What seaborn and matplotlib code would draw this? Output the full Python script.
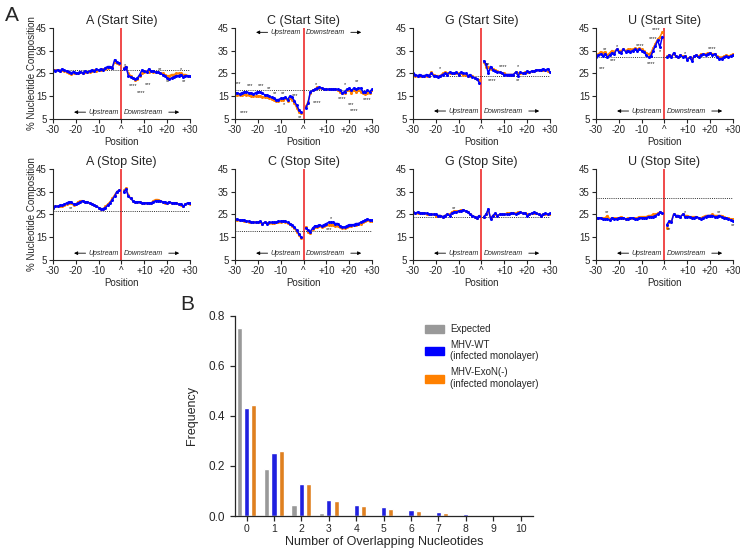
import matplotlib
matplotlib.use("Agg")
import matplotlib.pyplot as plt
import pandas as pd
import seaborn as sns
from matplotlib.patches import Patch

sns.set_style("ticks")
plt.rcParams['font.family'] = ['Liberation Sans', 'DejaVu Sans']

# positions -30..-1 then +1..+30 (no value at the site itself)
upstream = list(range(-30, 0))
downstream = list(range(1, 31))
positions = upstream + downstream

# % nucleotide composition, start sites
a_start_wt = [26.5, 26.2, 26.5, 26.0, 27.0, 26.3, 26.0, 25.5, 25.2, 25.8,
              25.0, 25.3, 25.8, 25.2, 26.0, 25.5, 26.0, 26.5, 26.0, 26.8,
              26.5, 27.0, 26.5, 27.5, 28.0, 28.0, 27.5, 31.0, 30.0, 29.5,
              27.0, 28.0, 24.0, 23.5, 23.0, 22.5, 23.0, 24.5, 26.5, 26.0,
              25.5, 27.0, 26.0, 26.0, 25.5, 25.5, 25.0, 24.5, 24.0, 23.0,
              22.5, 23.0, 23.5, 24.0, 24.0, 24.5, 23.5, 24.0, 24.0, 23.8]
a_start_exo = [26.3, 26.4, 26.5, 26.2, 26.5, 26.0, 25.8, 25.0, 24.8, 25.2,
               25.0, 25.0, 25.5, 25.3, 25.6, 25.8, 25.5, 26.0, 26.3, 26.2,
               26.5, 26.3, 26.8, 27.0, 27.5, 27.8, 27.5, 30.0, 29.5, 29.0,
               27.5, 28.0, 25.0, 24.0, 23.0, 22.0, 22.5, 24.0, 25.0, 25.5,
               26.0, 25.5, 26.0, 25.5, 25.8, 25.5, 25.0, 25.0, 24.5, 24.0,
               24.0, 24.5, 24.5, 25.0, 25.0, 25.0, 24.5, 24.5, 24.0, 24.0]
c_start_wt = [16.5, 16.5, 16.0, 16.5, 16.8, 17.0, 16.5, 16.5, 16.0, 16.5,
              17.0, 16.8, 16.5, 15.5, 15.5, 15.0, 14.5, 14.0, 13.5, 13.5,
              14.0, 14.0, 14.5, 13.5, 15.0, 14.5, 13.0, 11.0, 9.0, 8.0,
              10.0, 12.0, 17.0, 17.5, 18.0, 18.5, 19.0, 18.5, 18.0, 18.0,
              18.0, 18.0, 18.0, 18.0, 18.0, 17.5, 16.5, 17.0, 18.0, 18.5,
              17.5, 18.5, 18.0, 18.5, 18.5, 17.0, 17.0, 17.5, 17.0, 18.0]
c_start_exo = [15.5, 15.5, 15.5, 15.5, 15.8, 15.5, 15.5, 15.0, 15.0, 15.0,
               15.0, 15.0, 14.8, 14.5, 14.5, 14.0, 13.8, 13.5, 13.0, 13.0,
               13.5, 13.5, 14.0, 13.0, 14.0, 13.5, 12.0, 10.0, 8.0, 7.5,
               10.5, 12.5, 16.5, 17.5, 18.0, 19.0, 18.5, 18.5, 18.0, 18.0,
               18.0, 18.0, 18.0, 18.0, 17.5, 17.0, 16.5, 16.5, 17.5, 17.5,
               16.5, 17.5, 17.0, 17.5, 17.0, 16.5, 16.0, 16.5, 16.5, 17.5]
g_start_wt = [25.0, 24.5, 24.0, 24.5, 24.0, 24.0, 24.5, 24.0, 25.0, 24.0,
              24.0, 23.5, 24.0, 24.5, 25.0, 24.5, 25.5, 25.0, 25.0, 25.5,
              24.5, 25.5, 25.0, 25.0, 24.0, 24.5, 23.5, 23.0, 22.5, 21.0,
              30.5, 29.0, 25.0, 28.0, 26.5, 26.0, 25.5, 25.5, 25.0, 24.5,
              24.5, 24.5, 24.5, 24.5, 25.5, 24.0, 25.5, 25.0, 25.0, 26.0,
              25.5, 26.0, 26.0, 26.5, 26.5, 26.5, 27.0, 26.5, 27.0, 25.5]
g_start_exo = [24.5, 24.0, 24.0, 24.0, 24.0, 24.0, 24.0, 24.0, 25.5, 24.5,
               24.0, 24.0, 24.0, 25.0, 25.5, 25.0, 25.0, 25.0, 25.0, 25.0,
               25.0, 25.0, 24.5, 24.5, 24.0, 24.0, 24.0, 23.0, 22.5, 22.0,
               30.0, 28.0, 28.0, 27.0, 27.0, 26.5, 26.0, 25.5, 25.0, 25.0,
               24.5, 24.5, 24.5, 24.5, 25.5, 25.0, 25.0, 25.0, 25.5, 25.5,
               25.5, 26.0, 26.0, 26.5, 26.5, 26.5, 26.5, 26.5, 26.0, 25.5]
u_start_wt = [32.0, 33.0, 33.5, 32.5, 33.5, 32.0, 33.0, 34.0, 33.5, 35.5,
              34.5, 34.0, 35.5, 34.5, 35.0, 34.5, 35.0, 35.5, 35.0, 35.5,
              35.0, 34.5, 33.0, 32.0, 32.5, 35.0, 37.0, 39.5, 36.5, 41.0,
              32.0, 33.0, 32.0, 34.0, 32.5, 32.0, 33.0, 32.0, 32.5, 31.0,
              32.0, 30.5, 32.5, 33.0, 32.0, 33.0, 33.5, 33.0, 33.5, 34.0,
              33.0, 33.5, 32.0, 31.5, 31.5, 32.0, 32.5, 32.0, 32.5, 33.0]
u_start_exo = [32.5, 33.5, 34.5, 34.0, 34.5, 33.0, 34.0, 35.0, 34.5, 35.5,
               35.0, 35.0, 35.5, 35.0, 35.5, 35.5, 35.5, 36.0, 35.5, 36.0,
               35.5, 35.0, 34.0, 33.5, 34.0, 36.0, 38.0, 40.0, 41.0, 43.0,
               32.5, 33.0, 32.5, 33.5, 32.5, 32.0, 33.0, 32.5, 32.5, 31.5,
               32.0, 31.5, 32.5, 33.0, 32.5, 33.5, 33.5, 33.5, 34.0, 34.0,
               33.5, 33.5, 32.5, 32.0, 32.0, 32.5, 33.0, 32.5, 33.0, 33.5]

# % nucleotide composition, stop sites
a_stop_wt = [28.0, 28.5, 28.5, 29.0, 29.0, 29.5, 30.0, 30.5, 30.5, 29.5,
             29.5, 30.0, 30.5, 31.0, 30.5, 30.5, 30.0, 29.5, 29.0, 28.5,
             28.0, 27.5, 27.5, 28.0, 29.0, 30.0, 31.5, 33.0, 35.0, 35.5,
             35.0, 36.0, 33.0, 32.0, 31.0, 30.5, 30.5, 30.5, 30.0, 30.0,
             30.0, 30.0, 30.0, 30.5, 31.0, 31.0, 31.0, 30.5, 30.5, 30.0,
             30.5, 30.0, 30.0, 30.0, 29.5, 29.5, 28.5, 29.5, 30.0, 30.0]
a_stop_exo = [28.0, 28.5, 28.5, 28.5, 28.5, 29.0, 29.5, 30.0, 30.0, 29.0,
              29.5, 30.5, 31.0, 31.0, 30.5, 30.5, 30.0, 29.5, 29.0, 28.5,
              28.0, 27.5, 27.5, 28.5, 29.5, 30.5, 32.0, 33.5, 35.0, 35.5,
              35.5, 36.5, 33.5, 32.0, 31.0, 30.5, 30.5, 30.5, 30.0, 30.0,
              30.0, 30.0, 30.0, 31.0, 31.5, 31.5, 31.0, 30.5, 30.0, 30.0,
              30.5, 30.0, 30.0, 30.0, 29.5, 29.0, 28.5, 29.5, 30.0, 29.5]
c_stop_wt = [22.8, 22.8, 22.5, 22.5, 22.5, 22.0, 22.0, 21.5, 21.5, 21.5,
             21.5, 22.0, 21.0, 21.5, 21.0, 21.5, 21.5, 21.5, 21.5, 22.0,
             22.0, 22.0, 22.0, 21.5, 21.0, 20.5, 19.5, 18.0, 16.5, 15.0,
             19.0, 18.0, 17.5, 19.0, 20.0, 20.0, 20.5, 20.0, 20.5, 21.0,
             21.5, 21.5, 21.5, 21.0, 21.0, 20.0, 19.5, 19.5, 20.0, 20.5,
             20.5, 20.5, 21.0, 21.0, 21.5, 22.0, 22.5, 23.0, 22.5, 22.5]
c_stop_exo = [22.5, 22.5, 22.5, 22.5, 22.3, 22.0, 21.8, 21.5, 21.8, 21.5,
              21.8, 21.5, 20.8, 21.5, 21.2, 21.3, 21.2, 21.3, 21.5, 21.8,
              21.8, 22.0, 21.8, 21.3, 21.0, 20.0, 19.0, 17.5, 16.0, 14.5,
              19.5, 17.5, 17.0, 18.5, 19.5, 19.5, 20.0, 19.5, 20.0, 20.5,
              20.5, 20.5, 20.5, 20.0, 20.0, 19.5, 19.0, 19.0, 19.5, 20.0,
              20.0, 20.5, 20.5, 21.0, 21.0, 21.5, 22.0, 22.5, 22.0, 22.0]
g_stop_wt = [26.0, 25.5, 26.0, 25.8, 25.5, 25.5, 25.5, 25.0, 25.0, 25.0,
             25.0, 24.5, 24.5, 24.0, 24.5, 25.0, 24.5, 25.5, 26.0, 26.0,
             26.5, 26.5, 27.0, 26.5, 26.0, 25.0, 24.5, 24.0, 23.5, 24.5,
             24.0, 25.0, 27.5, 23.0, 24.5, 25.5, 24.5, 25.0, 25.0, 25.0,
             25.0, 25.0, 25.5, 25.5, 25.0, 25.5, 26.0, 25.5, 25.5, 24.5,
             25.0, 25.5, 26.0, 25.5, 25.0, 24.5, 25.0, 25.5, 25.0, 25.5]
g_stop_exo = [26.0, 25.5, 25.5, 25.5, 25.5, 25.5, 25.0, 25.0, 25.0, 25.0,
              24.5, 24.5, 24.5, 24.0, 24.5, 25.0, 25.0, 26.0, 26.5, 26.5,
              26.5, 27.0, 27.0, 26.5, 26.0, 25.0, 24.5, 24.0, 23.5, 24.5,
              24.0, 25.0, 26.5, 23.5, 24.5, 25.0, 24.5, 25.0, 25.0, 25.0,
              25.5, 25.5, 25.5, 25.5, 25.5, 26.0, 26.0, 25.5, 25.5, 25.0,
              25.0, 25.5, 25.5, 25.5, 25.0, 24.5, 25.0, 25.0, 25.0, 25.0]
u_stop_wt = [23.5, 23.5, 23.5, 23.0, 23.0, 23.0, 22.5, 23.5, 23.0, 23.0,
             23.5, 23.5, 23.5, 23.0, 23.0, 23.5, 23.5, 23.0, 23.0, 23.5,
             23.5, 23.5, 23.5, 24.0, 24.0, 24.0, 24.5, 25.0, 26.0, 25.5,
             20.5, 22.0, 21.5, 25.0, 24.5, 24.5, 24.0, 25.0, 24.0, 24.0,
             24.0, 23.5, 23.5, 24.0, 23.5, 23.0, 23.5, 24.0, 24.5, 24.5,
             24.5, 24.0, 24.0, 24.5, 24.0, 23.5, 23.5, 23.0, 22.5, 22.0]
u_stop_exo = [23.5, 23.5, 23.5, 23.5, 23.5, 24.5, 23.0, 23.5, 23.5, 23.5,
              23.5, 24.0, 23.5, 23.0, 23.5, 23.5, 23.5, 23.5, 23.5, 24.0,
              24.0, 24.0, 24.0, 24.5, 24.5, 25.0, 25.0, 25.5, 26.0, 25.5,
              19.0, 21.5, 22.0, 25.0, 24.5, 24.5, 24.0, 25.0, 24.5, 24.5,
              24.0, 24.0, 24.0, 24.0, 23.5, 23.5, 24.0, 24.5, 24.5, 24.5,
              25.0, 24.5, 24.5, 24.5, 24.5, 24.0, 23.5, 23.5, 23.0, 23.0]

# expected composition (dotted lines)
expected_pct = {'A': 26.5, 'C': 17.8, 'G': 23.7, 'U': 32.0}

# significance marks: (position, y, text)
stars = {
    'A start': [(1.5, 28.5, '*'), (5, 19.5, '****'), (8.5, 16.5, '****'), (11.5, 20, '***'),
                (17, 26.8, '**'), (20.5, 21.3, '**'), (26, 26.8, '*'), (27.5, 21.3, '**')],
    'C start': [(-28.5, 20.5, '***'), (-23.5, 19.8, '***'), (-18.5, 19.8, '***'), (-15, 18.2, '**'),
                (-26, 8, '****'), (-12.5, 16, '**'), (-9, 16, '**'), (-3.5, 15.5, '***'),
                (-8.5, 11.3, '*'), (-1.5, 5.8, '**'), (6, 12, '****'), (5.5, 20.2, '*'),
                (18, 20.3, '*'), (23.5, 21.3, '**'), (17, 14, '****'), (21, 11.5, '***'),
                (22, 8.5, '****'), (28, 13.5, '****')],
    'G start': [(-18, 27, '*'), (3, 29, '**'), (9.5, 28, '****'), (4.5, 21.8, '****'),
                (16, 28, '*'), (16, 21.8, '**')],
    'U start': [(-27.5, 27, '***'), (-26, 35.3, '**'), (-21, 36.8, '*'), (-22.5, 30.5, '***'),
                (-10.5, 37, '****'), (-6, 29.5, '****'), (-5, 40.2, '****'), (-3.5, 44, '****'),
                (-2, 34.5, '*'), (9, 33.5, '*'), (21, 35.8, '****')],
    'A stop': [(-22, 27.5, '**')],
    'C stop': [(12, 23, '*'), (11, 18.5, '***')],
    'G stop': [(-12, 27.5, '**')],
    'U stop': [(-25, 26, '**'), (2, 18.2, '**'), (9, 25.8, '*'), (24, 25.8, '**'), (30, 20, '**')],
}

# Panel B: frequency of overlapping nucleotides
overlap = list(range(0, 11))
freq_expected = [0.75, 0.187, 0.046, 0.011, 0.002, 0.0, 0.0, 0.0, 0.0, 0.0, 0.0]
freq_wt = [0.430, 0.250, 0.127, 0.066, 0.046, 0.036, 0.024, 0.016, 0.008, 0.002, 0.0]
freq_exo = [0.445, 0.258, 0.127, 0.062, 0.040, 0.030, 0.022, 0.013, 0.006, 0.001, 0.0]

BLUE = '#0000ff'
ORANGE = '#ff8000'
GRAY = '#999999'
RED = '#ee2b2b'

panels = [
    ('A', 'Start', a_start_wt, a_start_exo, 8),
    ('C', 'Start', c_start_wt, c_start_exo, 43),
    ('G', 'Start', g_start_wt, g_start_exo, 8.5),
    ('U', 'Start', u_start_wt, u_start_exo, 8.5),
    ('A', 'Stop', a_stop_wt, a_stop_exo, 8),
    ('C', 'Stop', c_stop_wt, c_stop_exo, 8),
    ('G', 'Stop', g_stop_wt, g_stop_exo, 8),
    ('U', 'Stop', u_stop_wt, u_stop_exo, 8),
]

fig = plt.figure(figsize=(7.4, 5.53), dpi=100)
lefts = [0.0716, 0.3176, 0.5581, 0.8054]
bottoms = [0.7848, 0.5298]

for i, (nt, site, wt, exo, arrow_y) in enumerate(panels):
    row, col = divmod(i, 4)
    ax = fig.add_axes([lefts[col], bottoms[row], 0.1851, 0.165])

    side = ['up'] * len(upstream) + ['down'] * len(downstream)
    df = pd.DataFrame({
        'pos': positions * 2,
        'value': exo + wt,
        'strain': ['ExoN'] * len(positions) + ['WT'] * len(positions),
        'side': side * 2,
    })
    sns.lineplot(data=df, x='pos', y='value', hue='strain', units='side', estimator=None,
                 palette={'ExoN': ORANGE, 'WT': BLUE}, hue_order=['ExoN', 'WT'],
                 marker='o', markersize=2.2, markeredgewidth=0, linewidth=1.1,
                 legend=False, ax=ax)

    ax.axhline(expected_pct[nt], color='#333333', ls=(0, (1, 1.2)), lw=0.7, zorder=1)
    ax.axvline(0, color=RED, lw=1.2, zorder=0)

    ax.set_xlim(-30, 30)
    ax.set_ylim(5, 45)
    ax.set_xticks([-30, -20, -10, 0, 10, 20, 30])
    ax.set_xticklabels(['-30', '-20', '-10', '^', '+10', '+20', '+30'])
    ax.set_yticks([5, 15, 25, 35, 45])
    ax.tick_params(labelsize=7, length=3, width=0.8, pad=1.5)
    for s in ['left', 'bottom']:
        ax.spines[s].set_linewidth(0.8)
    sns.despine(ax=ax)

    ax.set_title(f'{nt} ({site} Site)', fontsize=9, pad=3)
    ax.set_xlabel('Position', fontsize=7, labelpad=1)
    if col == 0:
        ax.set_ylabel('% Nucleotide Composition', fontsize=7, labelpad=-1)
    else:
        ax.set_ylabel('')

    # upstream / downstream arrows
    ax.text(-1, arrow_y, 'Upstream', ha='right', va='center', fontsize=5, style='italic')
    ax.text(1, arrow_y, 'Downstream', ha='left', va='center', fontsize=5, style='italic')
    ax.annotate('', xy=(-22, arrow_y), xytext=(-14.5, arrow_y),
                arrowprops=dict(arrowstyle='-|>', lw=0.6, color='black', mutation_scale=5))
    ax.annotate('', xy=(26.5, arrow_y), xytext=(19.5, arrow_y),
                arrowprops=dict(arrowstyle='-|>', lw=0.6, color='black', mutation_scale=5))

    for x, y, t in stars[f'{nt} {site.lower()}']:
        ax.text(x, y, t, ha='center', va='center', fontsize=4, color='#222222')

fig.text(0.007, 0.972, 'A', fontsize=15, va='center')
fig.text(0.243, 0.449, 'B', fontsize=15, va='center')

# Panel B
axb = fig.add_axes([0.3176, 0.0669, 0.4027, 0.3617])
dfb = pd.DataFrame({
    'overlap': overlap * 3,
    'freq': freq_expected + freq_wt + freq_exo,
    'sample': ['Expected'] * 11 + ['WT'] * 11 + ['ExoN'] * 11,
})
sns.barplot(data=dfb, x='overlap', y='freq', hue='sample',
            hue_order=['Expected', 'WT', 'ExoN'],
            palette={'Expected': GRAY, 'WT': BLUE, 'ExoN': ORANGE},
            width=0.8, gap=0.3, legend=False, ax=axb)
axb.set_xlim(-0.42, 10.45)
axb.set_ylim(0, 0.8)
axb.set_yticks([0.0, 0.2, 0.4, 0.6, 0.8])
axb.set_yticklabels(['0.0', '0.2', '0.4', '0.6', '0.8'])
axb.tick_params(axis='y', labelsize=8.5, length=3.5, width=0.9)
axb.tick_params(axis='x', labelsize=7.5, length=3.5, width=0.9, pad=2)
for s in ['left', 'bottom']:
    axb.spines[s].set_linewidth(0.9)
sns.despine(ax=axb)
axb.set_xlabel('Number of Overlapping Nucleotides', fontsize=9, labelpad=2)
axb.set_ylabel('Frequency', fontsize=9, labelpad=8)

handles = [Patch(color=GRAY), Patch(color=BLUE), Patch(color=ORANGE)]
labels = ['Expected', 'MHV-WT\n(infected monolayer)', 'MHV-ExoN(-)\n(infected monolayer)']
fig.legend(handles, labels, loc='upper left', bbox_to_anchor=(0.562, 0.43),
           frameon=False, fontsize=7, handlelength=2.0, handleheight=0.9,
           handletextpad=0.6, labelspacing=0.6)

fig.savefig('out.png', dpi=100)
